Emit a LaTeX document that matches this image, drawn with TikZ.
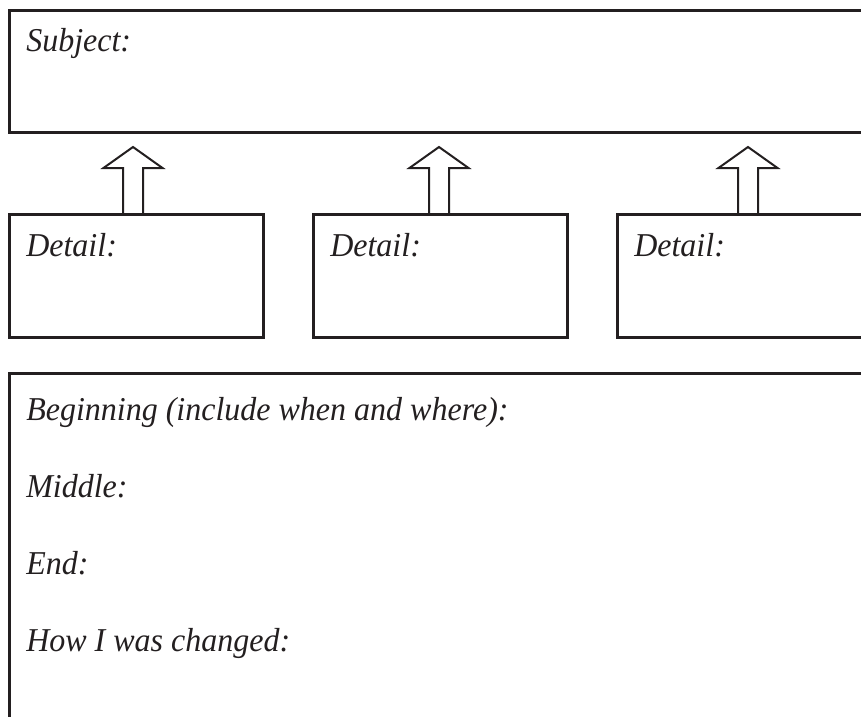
\documentclass[tikz,border=0pt]{standalone}
\usepackage{fontspec}
\setmainfont[FakeStretch=0.96]{Liberation Serif}
\usepackage{tikz}
\definecolor{InkGray}{HTML}{231F20}

\begin{document}
\begin{tikzpicture}[x=0.75pt, y=-0.75pt,
    box/.style = {draw=InkGray, line width=1.9pt, rectangle, anchor=north west, inner sep=0pt},
    lbl/.style = {anchor=base west, inner sep=0pt, text=InkGray, font=\itshape\fontsize{25}{30}\selectfont},
    uparrow/.style = {draw=InkGray, line width=1.5pt, line join=miter}]
      \clip (0,0) rectangle (861,717);
      \node[box, minimum width=654pt, minimum height=91.5pt] (subject) at (8,9) {};
      \node[lbl] (subjectlbl) at ([shift={(18,43)}]subject.north west) {Subject:};
      % detail boxes with their arrows up to the subject
      \foreach \n/\x/\ax in {1/8/133, 2/312/439, 3/616/748} {
        \node[box, minimum width=190.5pt, minimum height=92.25pt] (detail\n) at (\x,213) {};
        \node[lbl] (detaillbl\n) at ([shift={(18,43)}]detail\n.north west) {Detail:};
        \coordinate (tail\n) at (detail\n.north -| \ax,0);
        \draw[uparrow] (tail\n) ++(-10,0) -- ++(0,-45) -- ++(-19.5,0) -- ++(29.5,-21)
          -- ++(29.5,21) -- ++(-19.5,0) -- ++(0,45);
      }
      \node[box, minimum width=654pt, minimum height=300pt] (story) at (8,372) {};
      \foreach \t [count=\i from 0] in {Beginning (include when and where):, Middle:, End:, How I was changed:}
        \node[lbl] (storylbl\i) at ([shift={(18,48+77*\i)}]story.north west) {\t};
\end{tikzpicture}
\end{document}
